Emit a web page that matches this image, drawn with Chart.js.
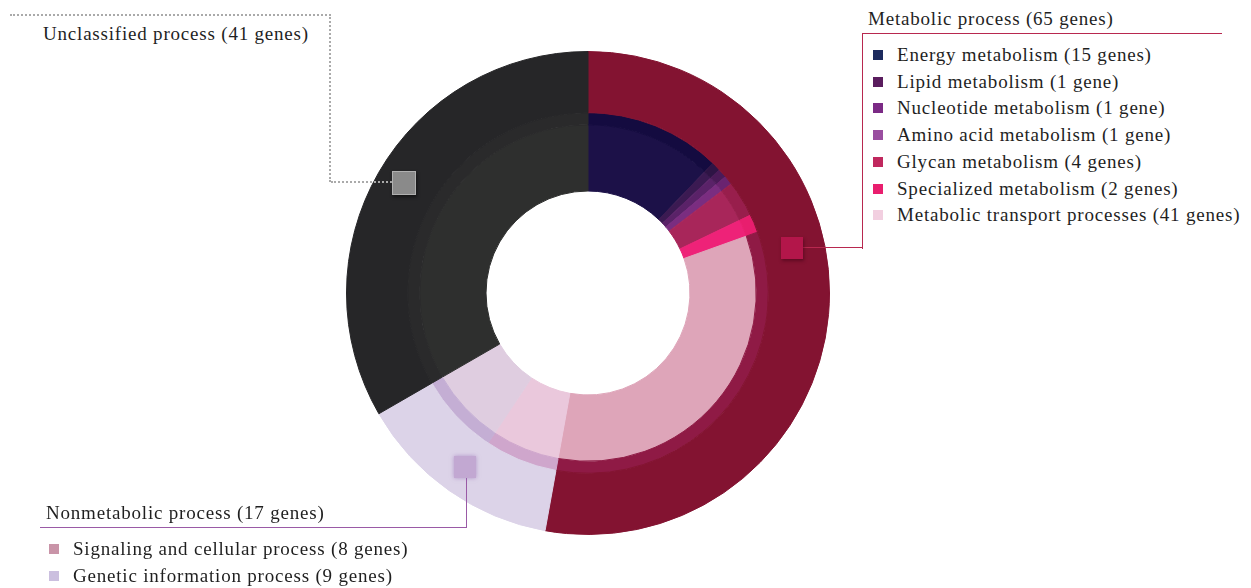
<!DOCTYPE html>
<html>
<head>
<meta charset="utf-8">
<script src="https://cdn.jsdelivr.net/npm/chart.js@4.4.0/dist/chart.umd.min.js"></script>
<style>
  html, body { margin: 0; padding: 0; background: #fff; }
  body { width: 1251px; height: 588px; position: relative; overflow: hidden;
         font-family: "Liberation Serif", serif; color: #1f1f1f; }
  .abs { position: absolute; }
  .title { font-size: 19px; letter-spacing: 0.8px; white-space: nowrap; line-height: 1; }
  .item { font-size: 19px; letter-spacing: 0.8px; white-space: nowrap; line-height: 1; }
  .sw { position: absolute; width: 10px; height: 10px; }
  .marker { position: absolute; width: 22px; height: 22px; }
  #chartBox { position: absolute; left: 346px; top: 51px; width: 484px; height: 484px; }
</style>
</head>
<body>
<div id="chartBox"><canvas id="geneChart"></canvas></div>
<div id="overlay"></div>
<script>
// =========================
// 데이터
// =========================
const outerLabels = ["Metabolic process", "Nonmetabolic process", "Unclassified process"];
const outerGenes = [65, 17, 41];

const innerLabels = [
  "Energy metabolism",
  "Lipid metabolism",
  "Nucleotide metabolism",
  "Amino acid metabolism",
  "Glycan metabolism",
  "Specialized metabolism",
  "Metabolic transport processes",
  "Signaling and cellular process",
  "Genetic information process",
  "Unclassified process",
];
const innerGenes = [15, 1, 1, 1, 4, 2, 41, 8, 9, 41];

// =========================
// 색상
// =========================
const outerColors = ["#831331", "#dcd3e8", "#262628"];
const innerColors = [
  "#1c1148", "#3b1a52", "#5a2268", "#7a2d80", "#a8265a", "#ee2278",
  "#dea5b9", "#eac8dc", "#dfcde0", "#2e2f2e",
];
const bandColors = [
  "#140b40", "#2e1445", "#4a1a58", "#6a2370", "#981e4c", "#e81e6e",
  "#8f1a45", "#cfa6cc", "#c4aed4", "#2a2a2b",
];
const legendColors = [
  "#1d2a5e", "#5a1d5e", "#7b2a85", "#9a4ea0", "#c0285e", "#e91e6e", "#f2cfe0",
  "#c994a8", "#cbbfdf",
];

function geneText(label, n) {
  return `${label} (${n} gene${n === 1 ? "" : "s"})`;
}

// =========================
// 도넛 차트
// 경계선 틈이 보이지 않도록 테두리를 채우기 색과 같게
// =========================
new Chart(document.querySelector("#geneChart"), {
  type: "doughnut",
  data: {
    labels: innerLabels,
    datasets: [
      { data: outerGenes, backgroundColor: outerColors, borderColor: outerColors, borderWidth: 1, weight: 61 },
      { data: innerGenes, backgroundColor: bandColors, borderColor: bandColors, borderWidth: 1, weight: 12 },
      { data: innerGenes, backgroundColor: innerColors, borderColor: innerColors, borderWidth: 1, weight: 66 },
    ],
  },
  options: {
    responsive: true,
    maintainAspectRatio: false,
    animation: false,
    cutout: 102,
    layout: { padding: 0 },
    plugins: {
      legend: { display: false },
      tooltip: { enabled: false },
    },
  },
});

// =========================
// 라벨, 범례, 연결선
// =========================
const overlay = document.querySelector("#overlay");

function add(html) {
  overlay.insertAdjacentHTML("beforeend", html);
}

// Unclassified
add(`<div class="abs" style="left:10px;top:14px;width:321px;height:168px;border-top:2px dotted #aaa;border-right:2px dotted #aaa;box-sizing:border-box"></div>`);
add(`<div class="abs" style="left:331px;top:181px;width:61px;border-top:2px dotted #aaa"></div>`);
add(`<div class="marker" style="left:392px;top:171px;background:#8a8a8a;border:1px solid #b0b0b0;box-shadow:1px 2px 3px rgba(0,0,0,0.5)"></div>`);
add(`<div class="abs title" style="left:43px;top:24px">${geneText(outerLabels[2], outerGenes[2])}</div>`);

// Metabolic
add(`<div class="abs" style="left:862px;top:33px;width:360px;height:216px;border-top:1.5px solid #b8284f;border-left:1.5px solid #b8284f;box-sizing:border-box"></div>`);
add(`<div class="abs" style="left:803px;top:247px;width:60px;border-top:1.5px solid #b8284f"></div>`);
add(`<div class="marker" style="left:781px;top:237px;background:#b3164a;box-shadow:1px 2px 3px rgba(60,0,20,0.5)"></div>`);
add(`<div class="abs title" style="left:868px;top:9px">${geneText(outerLabels[0], outerGenes[0])}</div>`);

for (let i = 0; i < 7; i++) {
  const y = 55 + i * 26.7;
  add(`<div class="sw" style="left:873px;top:${y - 5}px;background:${legendColors[i]}"></div>`);
  add(`<div class="abs item" style="left:897px;top:${y - 10}px">${geneText(innerLabels[i], innerGenes[i])}</div>`);
}

// Nonmetabolic
add(`<div class="abs" style="left:40px;top:478px;width:427px;height:50px;border-bottom:1.5px solid #9a5aa6;border-right:1.5px solid #9a5aa6;box-sizing:border-box"></div>`);
add(`<div class="marker" style="left:454px;top:456px;background:#c2a8d2;box-shadow:0 0 4px rgba(150,110,180,0.6)"></div>`);
add(`<div class="abs title" style="left:46px;top:503px">${geneText(outerLabels[1], outerGenes[1])}</div>`);

for (let i = 7; i < 9; i++) {
  const y = 549 + (i - 7) * 27;
  add(`<div class="sw" style="left:49px;top:${y - 5}px;background:${legendColors[i]}"></div>`);
  add(`<div class="abs item" style="left:73px;top:${y - 10}px">${geneText(innerLabels[i], innerGenes[i])}</div>`);
}
</script>
</body>
</html>
